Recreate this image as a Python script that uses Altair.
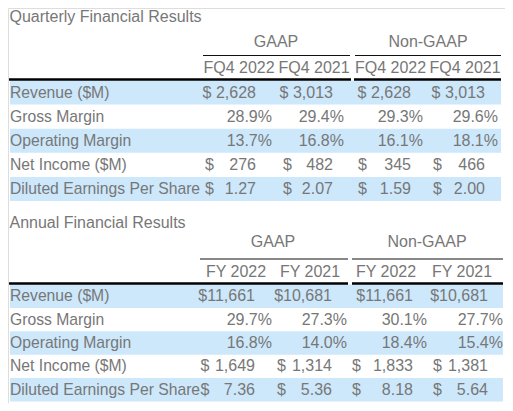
import altair as alt
import pandas as pd

# ---------------- data ----------------
metrics = ["Revenue ($M)", "Gross Margin", "Operating Margin", "Net Income ($M)",
           "Diluted Earnings Per Share"]
groups = ["GAAP", "Non-GAAP"]
q_title = "Quarterly Financial Results"
a_title = "Annual Financial Results"
q_periods = ["FQ4 2022", "FQ4 2021", "FQ4 2022", "FQ4 2021"]
a_periods = ["FY 2022", "FY 2021", "FY 2022", "FY 2021"]

q_revenue = [2628, 3013, 2628, 3013]
q_gross = [28.9, 29.4, 29.3, 29.6]
q_oper = [13.7, 16.8, 16.1, 18.1]
q_net = [276, 482, 345, 466]
q_eps = [1.27, 2.07, 1.59, 2.00]

a_revenue = [11661, 10681, 11661, 10681]
a_gross = [29.7, 27.3, 30.1, 27.7]
a_oper = [16.8, 14.0, 18.4, 15.4]
a_net = [1649, 1314, 1833, 1381]
a_eps = [7.36, 5.36, 8.18, 5.64]

# ---------------- layout (pixel positions of the table grid) ----------------
q_layout = dict(title_y=17, group_y=42, gline_y=55.5, head_y=68, thick_y=79.5,
                row_top=80.5, row_h=24.1, band=(10, 501),
                group_c=[276, 428], glines=[(203, 350), (355, 501)],
                thick=[(9, 351), (354, 501)],
                head_c=[239, 314, 390.5, 465], num_r=[256, 333, 411, 485],
                pct_r=[272, 344, 423, 498], dol_l=[205, 283, 358, 433])
a_layout = dict(title_y=223, group_y=242, gline_y=259, head_y=272, thick_y=283.5,
                row_top=284.5, row_h=23.4, band=(10, 503),
                group_c=[273, 427], glines=[(200, 348), (352, 503)],
                thick=[(9, 348), (352, 503)],
                head_c=[236, 310, 386, 462], num_r=[255, 332, 413, 488],
                pct_r=[272, 347, 427, 503], dol_l=[200.5, 277, 352, 433])

sections = [
    (q_title, q_periods, [q_revenue, q_gross, q_oper, q_net, q_eps], q_layout),
    (a_title, a_periods, [a_revenue, a_gross, a_oper, a_net, a_eps], a_layout),
]

bands, thin, thick, left_t, label_t, center_t, right_t = [], [], [], [], [], [], []
for title, periods, rows, L in sections:
    left_t.append(dict(x=9.5, y=L["title_y"], t=title))
    for gi, g in enumerate(groups):
        center_t.append(dict(x=L["group_c"][gi], y=L["group_y"], t=g))
        x0, x1 = L["glines"][gi]
        thin.append(dict(x=x0, x2=x1, y=L["gline_y"]))
        x0, x1 = L["thick"][gi]
        thick.append(dict(x=x0, x2=x1, y=L["thick_y"]))
    for ci, p in enumerate(periods):
        center_t.append(dict(x=L["head_c"][ci], y=L["head_y"], t=p))
    for ri, (m, vals) in enumerate(zip(metrics, rows)):
        top = L["row_top"] + ri * L["row_h"]
        yc = top + L["row_h"] / 2
        if ri % 2 == 0:
            bands.append(dict(x=L["band"][0], x2=L["band"][1], y=top, y2=top + L["row_h"]))
        label_t.append(dict(x=10, y=yc, t=m))
        for ci, v in enumerate(vals):
            if ri == 0:
                right_t.append(dict(x=L["num_r"][ci], y=yc, t=f"${v:>6,}"))
            elif ri in (1, 2):
                right_t.append(dict(x=L["pct_r"][ci], y=yc, t=f"{v:.1f}%"))
            else:
                left_t.append(dict(x=L["dol_l"][ci], y=yc, t="$"))
                txt = f"{v:,}" if ri == 3 else f"{v:.2f}"
                right_t.append(dict(x=L["num_r"][ci], y=yc, t=txt))

X = alt.Scale(domain=[8, 505], nice=False, zero=False)
Y = alt.Scale(domain=[8, 403], nice=False, zero=False, reverse=True)
FONT = "Liberation Sans"
GRAY = "#777777"

def xe():
    return alt.X("x:Q", scale=X, axis=None)

def ye():
    return alt.Y("y:Q", scale=Y, axis=None)

band_layer = alt.Chart(pd.DataFrame(bands)).mark_rect(color="#cde8fb").encode(
    x=xe(), x2="x2:Q", y=ye(), y2="y2:Q")
thin_layer = alt.Chart(pd.DataFrame(thin)).mark_rule(color="#111111", strokeWidth=1.2).encode(
    x=xe(), x2="x2:Q", y=ye())
thick_layer = alt.Chart(pd.DataFrame(thick)).mark_rule(color="#000000", strokeWidth=2.6).encode(
    x=xe(), x2="x2:Q", y=ye())

def text_layer(rows, align, size=16):
    return alt.Chart(pd.DataFrame(rows)).mark_text(
        align=align, baseline="middle", font=FONT, fontSize=size, color=GRAY
    ).encode(x=xe(), y=ye(), text="t:N")

chart = alt.layer(
    band_layer, thin_layer, thick_layer,
    text_layer(left_t, "left"), text_layer(label_t, "left", 15.7),
    text_layer(center_t, "center"), text_layer(right_t, "right"),
).properties(
    width=497, height=395, padding=0,
    autosize=alt.AutoSizeParams(type="none"),
).configure_view(strokeWidth=0).configure(background="white")

chart.save("out.html", embed_options={"renderer": "svg", "actions": False})
